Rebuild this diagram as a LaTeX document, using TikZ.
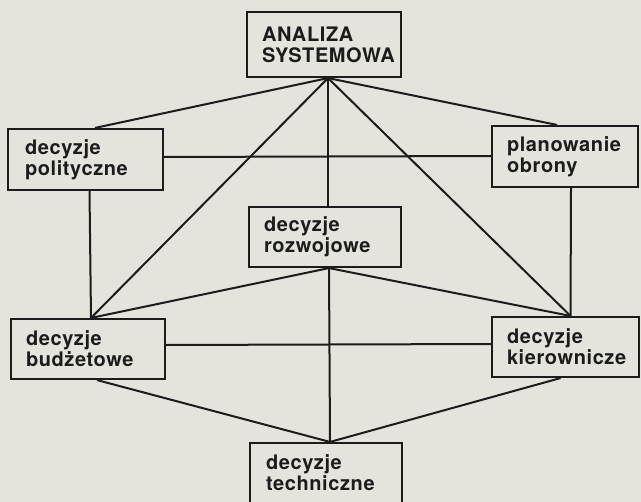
\documentclass[tikz,border=0pt]{standalone}
\usepackage{fontspec}
\setmainfont{TeX Gyre Heros}
\newfontfamily\boxfont[LetterSpace=3]{TeX Gyre Heros}
\usetikzlibrary{calc}
\definecolor{paper}{HTML}{E4E4DD}
\definecolor{ink}{HTML}{1C1C1C}
\tikzset{
  box/.style={draw=ink, line width=1.6pt, fill=paper, rectangle,
    inner xsep=0pt, inner ysep=0pt, align=left,
    font=\boxfont\bfseries\fontsize{15}{15.6}\selectfont, text=ink},
  link/.style={draw=ink, line width=1.5pt},
}
\begin{document}
\begin{tikzpicture}[x=0.75pt, y=-0.75pt]
  \useasboundingbox[fill=paper] (0,0) rectangle (641,502);

  % decision boxes
  \node[box, minimum width=154*0.75pt, minimum height=65*0.75pt, text width=124*0.75pt] (an) at (324,44.5) {ANALIZA\\SYSTEMOWA};
  \node[box, minimum width=155*0.75pt, minimum height=61*0.75pt, text width=121*0.75pt] (pol) at (85.5,159.5) {decyzje\\polityczne};
  \node[box, minimum width=146*0.75pt, minimum height=61*0.75pt, text width=116*0.75pt] (plan) at (565,156.5) {planowanie\\obrony};
  \node[box, minimum width=152*0.75pt, minimum height=60*0.75pt, text width=122*0.75pt] (roz) at (325,237) {decyzje\\rozwojowe};
  \node[box, minimum width=154*0.75pt, minimum height=60*0.75pt, text width=124*0.75pt] (bud) at (88,349) {decyzje\\budżetowe};
  \node[box, minimum width=147*0.75pt, minimum height=60*0.75pt, text width=117*0.75pt] (kier) at (565.5,347) {decyzje\\kierownicze};
  % bottom box, running past the lower edge
  \node[box, minimum width=152*0.75pt, minimum height=60*0.75pt, text width=120*0.75pt] (tech) at (326,473) {decyzje\\techniczne};

  % junction points on the box edges
  \coordinate (anS)   at ($(an.south)+(4,0)$);
  \coordinate (polN)  at ($(pol.north)+(9.5,0)$);
  \coordinate (polS)  at ($(pol.south)+(4,0)$);
  \coordinate (planN) at ($(plan.north)+(-8,0)$);
  \coordinate (planS) at ($(plan.south)+(6,0)$);
  \coordinate (rozN)  at ($(roz.north)+(3,0)$);
  \coordinate (rozS)  at ($(roz.south)+(4,0)$);
  \coordinate (budN)  at ($(bud.north)+(3,0)$);
  \coordinate (budS)  at ($(bud.south)+(9,0)$);
  \coordinate (kierN) at ($(kier.north)+(5,0)$);
  \coordinate (kierS) at ($(kier.south)+(-5,0)$);
  \coordinate (techN) at ($(tech.north)+(4,0)$);

  % connectors
  \draw[link] (anS) -- (polN);
  \draw[link] (anS) -- (planN);
  \draw[link] (anS) -- (rozN);
  \draw[link] (anS) -- (budN);
  \draw[link] (anS) -- (kierN);
  \draw[link] ($(pol.east)+(0,-2.5)$) -- ($(plan.west)+(0,-0.5)$);
  \draw[link] (polS) -- (budN);
  \draw[link] (planS) -- (kierN);
  \draw[link] (rozS) -- (budN);
  \draw[link] (rozS) -- (kierN);
  \draw[link] ($(bud.east)+(0,-4)$) -- ($(kier.west)+(0,-3)$);
  \draw[link] (rozS) -- (techN);
  \draw[link] (budS) -- (techN);
  \draw[link] (kierS) -- (techN);
\end{tikzpicture}
\end{document}
